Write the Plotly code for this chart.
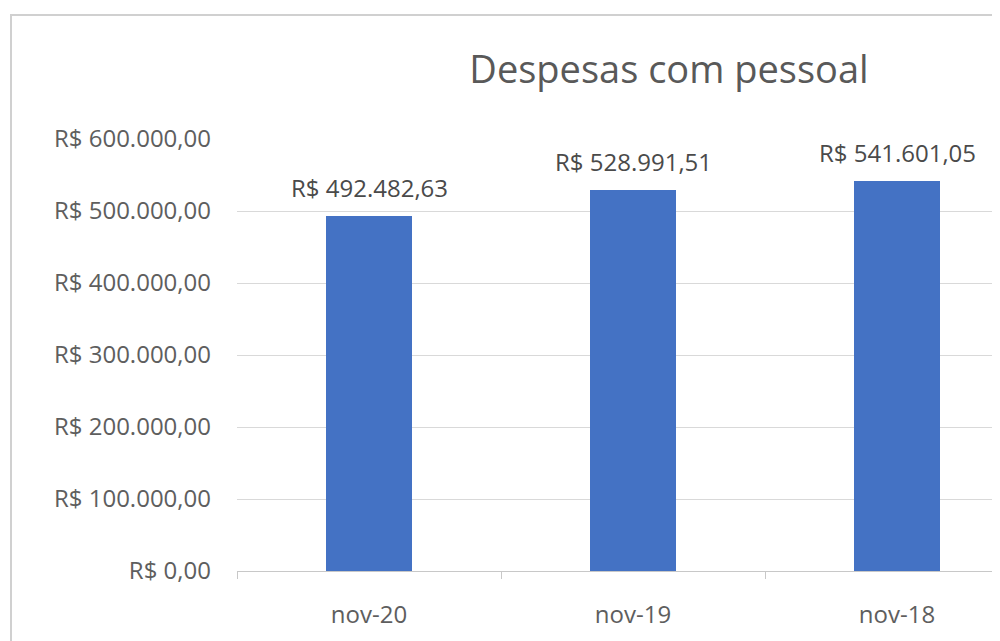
import plotly.graph_objects as go

categories = ["nov-20", "nov-19", "nov-18"]
values = [492482.63, 528991.51, 541601.05]
y_tick_vals = [0, 100000, 200000, 300000, 400000, 500000, 600000]
title_text = "Despesas com pessoal"


def brl(v):
    s = f"{v:,.2f}"  # 1,234.56
    s = s.replace(",", "X").replace(".", ",").replace("X", ".")
    return "R$ " + s


y_tick_text = [brl(v) for v in y_tick_vals]
labels = [brl(v) for v in values]

FONT = "Open Sans"
OFF = 8  # page body margin
W, H = 1000 - OFF, 641 - OFF
L, R, T, B = 237 - OFF, 0, 139 - OFF, 70
pw, ph = W - L - R, H - T - B
cat_px = 264.0
x_end = -0.5 + pw / cat_px


def px_x(win_x):
    return (win_x - OFF - L) / pw


def px_y(win_y):
    return (H - B - (win_y - OFF)) / ph


fig = go.Figure()
fig.add_trace(go.Bar(
    x=categories, y=values,
    width=0.326,
    marker=dict(color="#4472C4", line=dict(width=0)),
))

for c, v, t in zip(categories, values, labels):
    fig.add_annotation(x=c, y=v, text=t, showarrow=False,
                       yanchor="middle", yshift=29,
                       font=dict(family=FONT, size=24, color="#4a4a4a"))

border = "#d0d0d0"
fig.add_shape(type="line", xref="paper", yref="paper",
              x0=px_x(11), x1=px_x(11), y0=px_y(15), y1=px_y(660),
              line=dict(color=border, width=2))
fig.add_shape(type="line", xref="paper", yref="paper",
              x0=px_x(10), x1=px_x(1010), y0=px_y(15), y1=px_y(15),
              line=dict(color=border, width=2))

fig.update_layout(
    width=W, height=H,
    margin=dict(l=L, r=R, t=T, b=B, pad=0),
    paper_bgcolor="white", plot_bgcolor="white",
    showlegend=False,
    title=dict(text=title_text, x=(669 - OFF) / W, xanchor="center",
               y=1 - (70 - OFF) / H, yanchor="middle",
               font=dict(family=FONT, size=38, color="#595959")),
    xaxis=dict(
        range=[-0.5, x_end], type="category",
        showgrid=False, showline=True, linecolor="#c8c8c8", linewidth=1,
        ticks="outside", tickson="boundaries", ticklen=7, tickcolor="#c8c8c8",
        tickfont=dict(family=FONT, size=24, color="#5e5e5e"),
        ticklabelstandoff=22,
    ),
    yaxis=dict(
        range=[0, 600000],
        tickvals=y_tick_vals, ticktext=y_tick_text,
        showgrid=True, gridcolor="#d9d9d9", gridwidth=1,
        zeroline=False, showline=False, ticks="",
        tickfont=dict(family=FONT, size=24, color="#5e5e5e"),
        ticklabelstandoff=25,
    ),
    bargap=0,
)

fig.write_html("out.html")
